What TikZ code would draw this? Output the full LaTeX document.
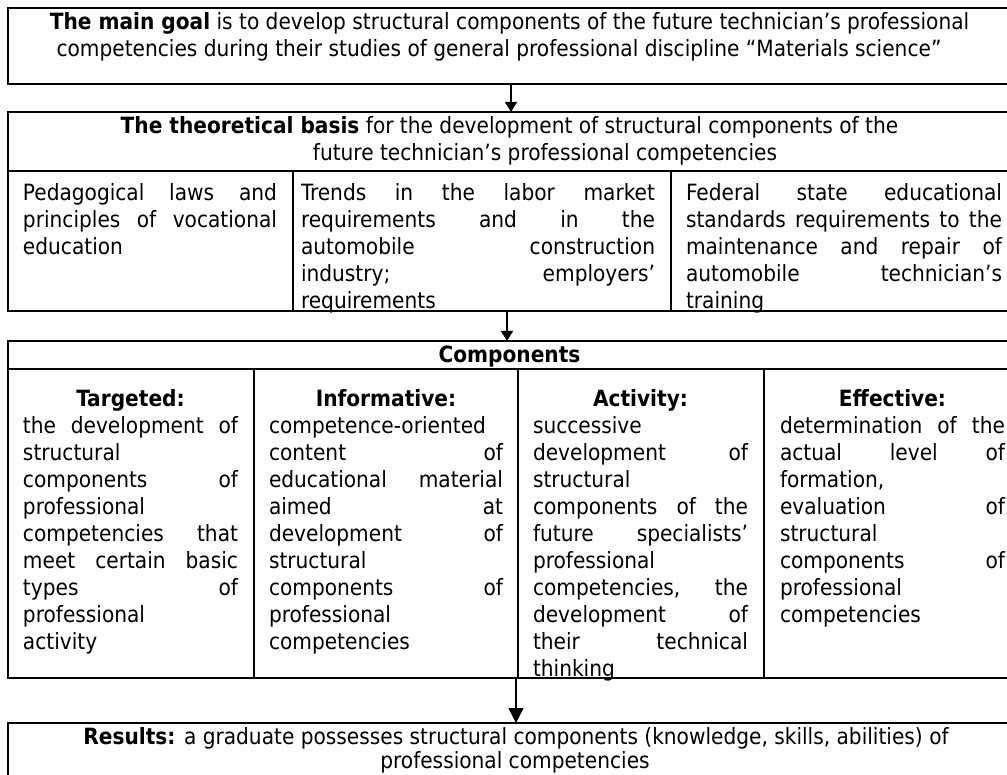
\documentclass[tikz,border=0pt]{standalone}
\usepackage{fontspec}
\setmainfont{DejaVu Sans Condensed}
\usetikzlibrary{arrows.meta}
\setlength\parskip{0pt}
\setlength\parindent{0pt}
\newcommand\J[1]{\par\noindent\hbox to\hsize{\spaceskip=\fontdimen2\font plus 1fil\relax\xspaceskip=\spaceskip\strut#1}}
\newcommand\Lf[1]{\par\noindent\hbox{\strut#1}}
\newcommand\Cn[1]{\par\noindent\hbox to\hsize{\hfil\strut#1\hfil}}
\begin{document}
\begin{tikzpicture}[x=1pt,y=-1pt,
  every node/.style={inner sep=0pt, outer sep=0pt, font=\fontsize{22.4}{27}\selectfont},
  box/.style={draw, line width=1.6pt, rectangle, anchor=north west},
  cell/.style={anchor=north west, text width=#1},
  grid/.style={line width=1.4pt},
  arr/.style={line width=1.4pt, -{Triangle[width=12pt,length=10pt]}},
  bigarr/.style={line width=1.4pt, -{Triangle[width=15pt,length=15pt]}},
]
\useasboundingbox (0,0) rectangle (1007,775);
% boxes
\node[box, minimum width=1012pt, minimum height=76pt] (goal) at (8,8) {};
\node[box, minimum width=1012pt, minimum height=199pt] (basis) at (8,112) {};
\node[box, minimum width=1012pt, minimum height=337pt] (comp) at (8,341) {};
\node[box, minimum width=1012pt, minimum height=80pt] (res) at (8,723) {};
% grid lines
\draw[grid] (8,171) -- (1020,171);
\draw[grid] (293,171) -- (293,311);
\draw[grid] (671,171) -- (671,311);
\draw[grid] (8,369) -- (1020,369);
\draw[grid] (254,369) -- (254,678);
\draw[grid] (518,369) -- (518,678);
\draw[grid] (764,369) -- (764,678);
% arrows
\coordinate (x1) at (511,0);
\coordinate (x2) at (507,0);
\coordinate (x3) at (516,0);
\draw[arr] (goal.south -| x1) -- (basis.north -| x1);
\draw[arr] (basis.south -| x2) -- (comp.north -| x2);
\draw[bigarr] (comp.south -| x3) -- (res.north -| x3);
% texts
\node[anchor=base] (g1) at (509.5,30) {\textbf{The main goal} is to develop structural components of the future technician’s professional};
\node[anchor=base] (g2) at (499,57) {competencies during their studies of general professional discipline “Materials science”};
\node[anchor=base] (b1) at (509.5,134) {\textbf{The theoretical basis} for the development of structural components of the};
\node[anchor=base] (b2) at (545,161) {future technician’s professional competencies};
\node[cell=254pt] (p1) at (23,173.1) {\J{Pedagogical laws and}\J{principles of vocational}\Lf{education}};
\node[cell=354pt] (p2) at (301,173.1) {\J{Trends in the labor market}\J{requirements and in the}\J{automobile construction}\J{industry; employers’}\Lf{requirements}};
\node[cell=316pt] (p3) at (686,173.1) {\J{Federal state educational}\J{standards requirements to the}\J{maintenance and repair of}\J{automobile technician’s}\Lf{training}};
\node[anchor=base] (ch) at (509.5,363) {\textbf{Components}};
\node[cell=215pt] (c1) at (23,379.1) {\Cn{\textbf{Targeted:}}\J{the development of}\Lf{structural}\J{components of}\Lf{professional}\J{competencies that}\J{meet certain basic}\J{types of}\Lf{professional}\Lf{activity}};
\node[cell=234pt] (c2) at (269,379.1) {\Cn{\textbf{Informative:}}\Lf{competence-oriented}\J{content of}\J{educational material}\J{aimed at}\J{development of}\Lf{structural}\J{components of}\Lf{professional}\Lf{competencies}};
\node[cell=215pt] (c3) at (533,379.1) {\Cn{\textbf{Activity:}}\Lf{successive}\J{development of}\Lf{structural}\J{components of the}\J{future specialists’}\Lf{professional}\J{competencies, the}\J{development of}\J{their technical}\Lf{thinking}};
\node[cell=225pt] (c4) at (780,379.1) {\Cn{\textbf{Effective:}}\J{determination of the}\J{actual level of}\Lf{formation,}\J{evaluation of}\Lf{structural}\J{components of}\Lf{professional}\Lf{competencies}};
\node[anchor=base] (r1) at (516,744) {\textbf{Results:} a graduate possesses structural components (knowledge, skills, abilities) of};
\node[anchor=base] (r2) at (515,768) {professional competencies};
\end{tikzpicture}
\end{document}
